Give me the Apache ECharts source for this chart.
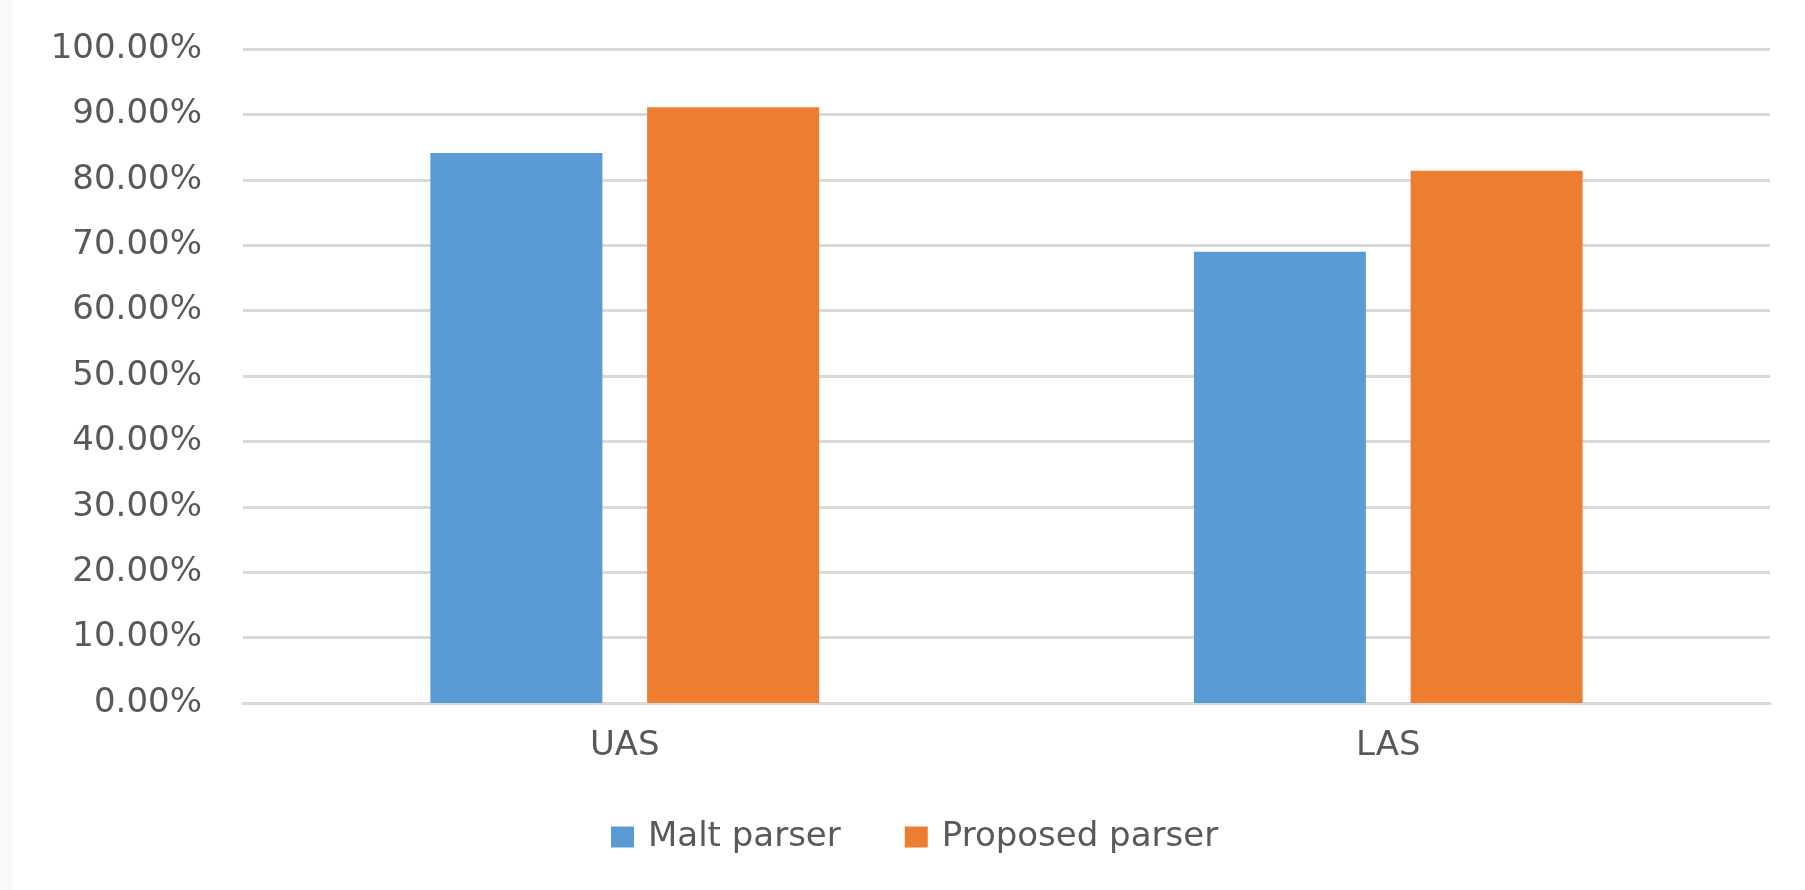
<!DOCTYPE html>
<html>
<head>
<meta charset="utf-8">
<script src="https://cdn.jsdelivr.net/npm/echarts@6/dist/echarts.min.js"></script>
<style>
html,body{margin:0;padding:0;background:#fff;}
#chart{width:1805px;height:890px;}
</style>
</head>
<body>
<div id="chart"></div>
<script>
var categories = ['UAS', 'LAS'];
var maltParser = [84.1, 69.0];
var proposedParser = [91.1, 81.4];
var seriesNames = ['Malt parser', 'Proposed parser'];

var textColor = '#595959';
var fontFamily = 'DejaVu Sans';
var chart = echarts.init(document.getElementById('chart'));
chart.setOption({
  backgroundColor: '#ffffff',
  animation: false,
  graphic: [
    { type: 'rect', left: 0, top: 0, shape: { width: 12, height: 890 }, style: { fill: '#f9f9f9' }, silent: true }
  ],
  grid: { left: 243, right: 35, top: 49, bottom: 187, containLabel: false },
  legend: {
    data: seriesNames,
    left: 606,
    top: 815,
    itemWidth: 23,
    itemHeight: 21,
    itemGap: 64,
    icon: 'rect',
    textStyle: { color: textColor, fontSize: 34, fontFamily: fontFamily, padding: [0, 0, 0, 9] }
  },
  xAxis: {
    type: 'category',
    data: categories,
    axisLine: { show: true, lineStyle: { color: '#d9d9d9', width: 3 } },
    axisTick: { show: false },
    axisLabel: { color: textColor, fontSize: 34, fontFamily: fontFamily, margin: 26 }
  },
  yAxis: {
    type: 'value',
    min: 0,
    max: 100,
    interval: 10,
    axisLine: { show: false },
    axisTick: { show: false },
    splitLine: { lineStyle: { color: '#d9d9d9', width: 3 } },
    axisLabel: {
      color: textColor, fontSize: 34, fontFamily: fontFamily, margin: 41,
      formatter: function (v) { return v.toFixed(2) + '%'; }
    }
  },
  series: [
    { name: seriesNames[0], type: 'bar', data: maltParser, itemStyle: { color: '#5b9bd5' },
      barWidth: 172, barGap: '26%' },
    { name: seriesNames[1], type: 'bar', data: proposedParser, itemStyle: { color: '#ed7d31' },
      barWidth: 172, barGap: '26%' }
  ]
});
</script>
</body>
</html>
